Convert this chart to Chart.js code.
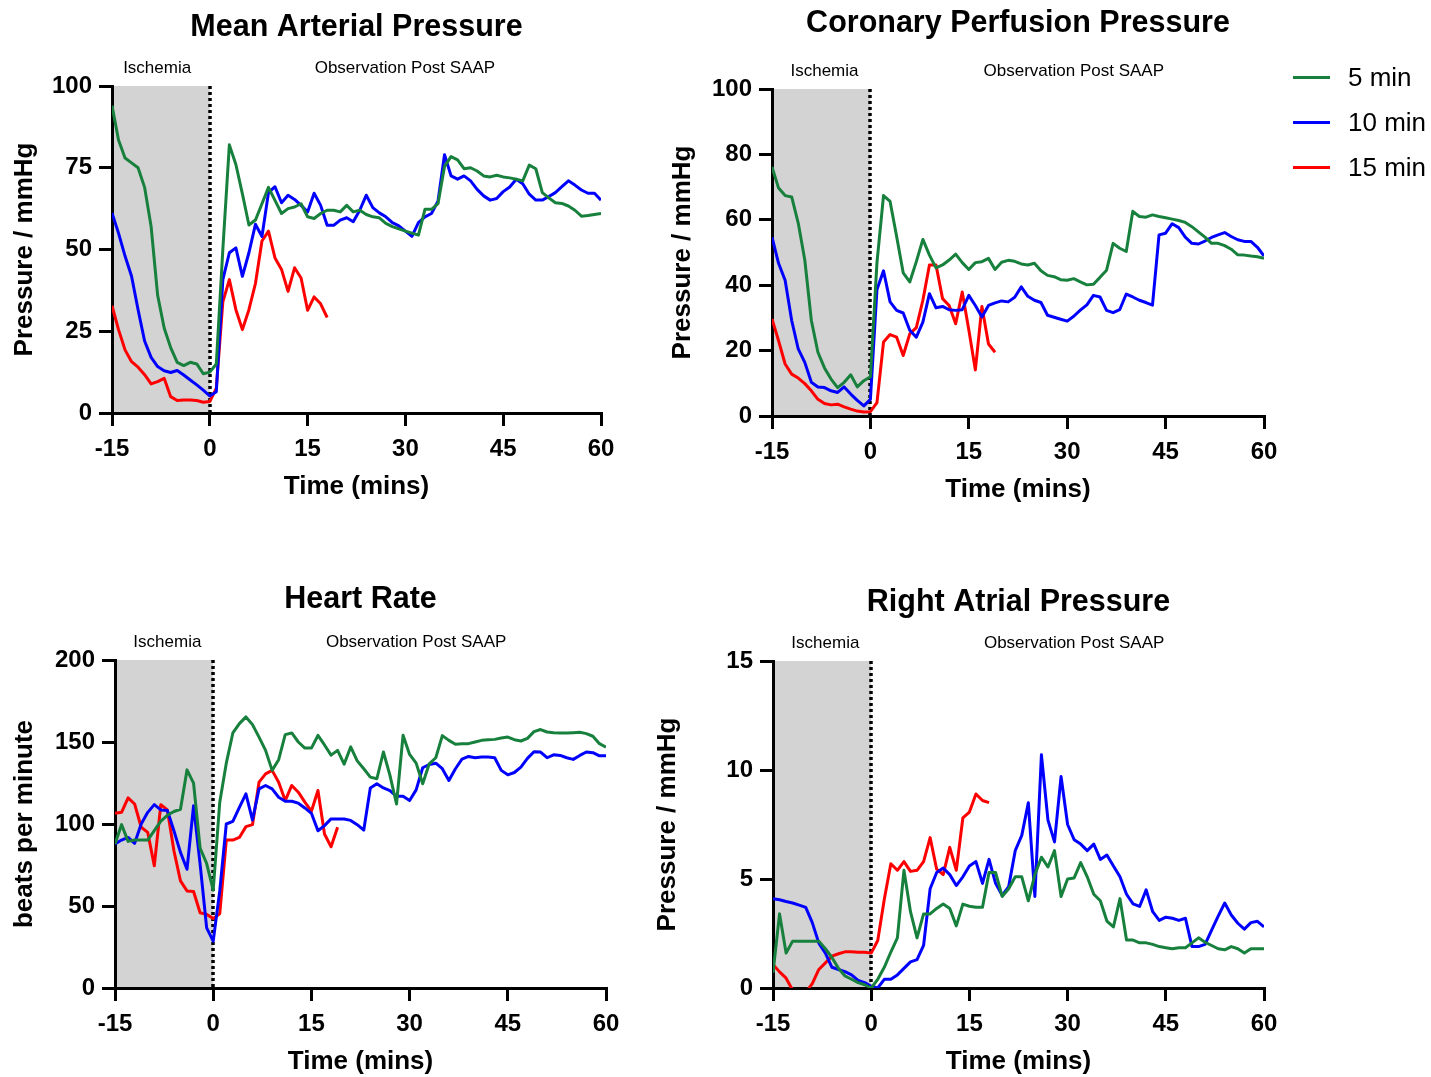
<!DOCTYPE html>
<html>
<head>
<meta charset="utf-8">
<title>Haemodynamics during ischemia and after SAAP</title>
<script src="https://cdn.jsdelivr.net/npm/chart.js@4.4.1/dist/chart.umd.min.js"></script>
<style>
  body { margin: 0; background: #fff; }
  #page { position: relative; width: 1431px; height: 1077px; overflow: hidden; }
  #page canvas { position: absolute; left: 0; top: 0; }
  #legend { position: absolute; left: 1293px; top: 55px; font: 26px 'Liberation Sans', Arial, sans-serif; color: #000; }
  #legend .row { display: flex; align-items: center; height: 45px; }
  #legend .swatch { width: 37px; height: 3px; margin-right: 18px; }
</style>
</head>
<body>
<div id="page">
  <canvas id="mapChart" width="1431" height="1077"></canvas>
  <canvas id="cppChart" width="1431" height="1077"></canvas>
  <canvas id="hrChart" width="1431" height="1077"></canvas>
  <canvas id="rapChart" width="1431" height="1077"></canvas>
  <div id="legend"></div>
</div>
<script>
const minutes = [-15, -14, -13, -12, -11, -10, -9, -8, -7, -6, -5, -4, -3, -2, -1, 0,
  1, 2, 3, 4, 5, 6, 7, 8, 9, 10, 11, 12, 13, 14, 15, 16, 17, 18, 19, 20,
  21, 22, 23, 24, 25, 26, 27, 28, 29, 30, 31, 32, 33, 34, 35, 36, 37, 38, 39, 40,
  41, 42, 43, 44, 45, 46, 47, 48, 49, 50, 51, 52, 53, 54, 55, 56, 57, 58, 59, 60];

const seriesNames = ['5 min', '10 min', '15 min'];
const seriesColors = ['#17803d', '#0000ff', '#ff0000'];

const timeTicks = [-15, 0, 15, 30, 45, 60];
const mapTicks = [0, 25, 50, 75, 100];
const cppTicks = [0, 20, 40, 60, 80, 100];
const hrTicks = [0, 50, 100, 150, 200];
const rapTicks = [0, 5, 10, 15];

// mean arterial pressure (mmHg), one value per minute from -15
const map5 = [94, 83.5, 78, 76.5, 75, 69, 57, 36, 26, 20, 15.5, 14.5, 15.5, 15, 12, 12.5,
  15, 50, 82, 76, 67, 57.5, 59, 64, 69, 65, 61, 62.5, 63, 64, 60, 59.5, 61, 62, 62, 61.5,
  63.5, 61.5, 62, 60.7, 60, 59.7, 58, 57, 56.3, 55.6, 55, 54.4, 62.3, 62.3, 64, 75.4, 78.4, 77.4, 74.7, 75,
  74, 72.5, 72.2, 72.7, 72.2, 71.9, 71.5, 71, 75.8, 74.7, 67.4, 65.8, 64.3, 64.1, 63.3, 62, 60.2, 60.4, 60.7, 61];
const map10 = [61.2, 55, 48, 41.8, 31.6, 22, 17, 14.2, 12.9, 12.4, 13, 11.6, 10.1, 8.6, 7, 5.2,
  6.5, 40.8, 49, 50.5, 41.8, 49, 57.7, 54, 67.4, 69.2, 64.3, 66.6, 65.3, 63.5, 61.5, 67.2, 63.5, 57.4, 57.4, 59,
  59.7, 58.5, 62, 66.6, 62.8, 61.2, 60, 58.2, 57.2, 55.6, 54, 58.2, 60, 61, 64.8, 79, 72.5, 71.5, 72.5, 71,
  68.4, 66.4, 65.1, 65.6, 67.7, 69.1, 71.5, 70.1, 66.9, 65.1, 65.1, 66.2, 67.4, 69.2, 71, 69.7, 68.2, 67.2, 67.2, 65.1];
const map15 = [32.8, 25.5, 19.3, 15.7, 14, 11.7, 8.9, 9.6, 10.6, 5, 3.8, 4, 4, 3.8, 3.3, 3.5,
  7.6, 34, 40.8, 31.6, 25.5, 31.6, 39.6, 52.6, 55.6, 47.4, 43.9, 37.2, 44.4, 41.3, 31.4, 35.5, 33.4, 29.2];

// coronary perfusion pressure (mmHg)
const cpp5 = [76.2, 69.7, 67.4, 67, 59, 47.7, 29.2, 19.5, 14.7, 11.3, 8.7, 10.3, 12.6, 8.9, 10.8, 12,
  46.9, 67.4, 65.6, 54.9, 43.8, 41, 47.2, 54, 49.2, 45.3, 46.2, 47.7, 49.5, 46.9, 44.8, 46.9, 47.2, 48.2, 44.8, 47,
  47.6, 47.3, 46.5, 46.2, 46.7, 44.4, 43, 42.6, 41.7, 41.5, 42, 41, 40.1, 40.3, 42.4, 44.6, 52.8, 51.3, 50.3, 62.6,
  61, 60.8, 61.5, 61, 60.6, 60.2, 59.8, 59.2, 57.9, 56.3, 54.7, 52.8, 52.8, 52.1, 51, 49.3, 49.2, 48.9, 48.7, 48.2];
const cpp10 = [54.7, 46.7, 41.5, 29.2, 20.5, 16.4, 10.3, 8.9, 8.7, 7.7, 7.2, 8.9, 6.7, 4.8, 3.1, 5.1,
  38.7, 44.4, 34.9, 32.3, 31.5, 26.2, 24.1, 28.7, 37.4, 33.1, 33.5, 32.5, 32.3, 32.5, 36.9, 33.8, 30.3, 33.8, 34.6, 35.2,
  34.9, 36.3, 39.5, 36.6, 35.4, 34.7, 30.8, 30.2, 29.6, 29, 30.5, 32.4, 34, 36.9, 36.4, 32.3, 31.6, 32.5, 37.3, 36.4,
  35.4, 34.7, 33.9, 55.4, 55.9, 58.8, 57.6, 54.7, 52.8, 52.6, 53.5, 54.6, 55.4, 56.1, 54.9, 53.9, 53.4, 53.4, 51.6, 48.9];
const cpp15 = [29.7, 23, 15.9, 12.8, 11.6, 9.9, 7.7, 5.1, 3.8, 3.4, 3.6, 2.8, 2.1, 1.5, 1.2, 1.3,
  4.1, 22.6, 24.9, 24.1, 18.5, 25.1, 27, 35.4, 46.2, 46.2, 35.9, 33.8, 28.2, 37.9, 26.4, 14.1, 33.5, 22, 19.5];

// heart rate (beats per minute)
const hr5 = [87.8, 99.6, 89.4, 90.2, 90.2, 90.2, 95.9, 101.8, 105.3, 107.6, 109, 133, 124.9, 85.3, 75.9, 59.6,
  113.3, 137.1, 155.5, 161.2, 165.3, 160.6, 153, 144.9, 132.7, 139.2, 154.5, 155.5, 150, 146.3, 146.3, 154, 148.2, 142, 144.9, 136.5,
  147, 138.5, 133.7, 128.6, 127.6, 143.9, 129.6, 112.2, 154.1, 142.4, 137.1, 124.5, 136.7, 140.4, 153.9, 151, 148.6, 149, 149, 150,
  151, 151.4, 151.6, 152.4, 153, 151.4, 150.6, 152.2, 156.3, 157.6, 156.1, 155.7, 155.5, 155.5, 155.7, 155.9, 155.1, 153.5, 149, 146.9];
const hr10 = [87.8, 90.2, 91.8, 88.2, 100, 107.1, 111.8, 108.6, 108.2, 95.9, 82.7, 72.4, 111.2, 75.5, 36.7, 28.6,
  59.2, 100, 101.6, 110.2, 118.4, 102.4, 121.4, 123.5, 121.4, 116.3, 113.9, 113.9, 112.7, 109.8, 106.5, 95.9, 99, 103.1, 103.1, 103.1,
  102.2, 99.6, 96.3, 122, 124.5, 122, 120.4, 116.9, 116.9, 114.3, 120.8, 134.3, 136.3, 137.1, 133.7, 126.5, 133.7, 139.6, 141.2, 140.4,
  140.8, 140.8, 140.4, 132.7, 130, 131.4, 134.7, 140, 144.1, 143.9, 140.4, 142.2, 141.8, 140.4, 139.4, 141.8, 143.9, 143.5, 141.6, 141.6];
const hr15 = [106.5, 107.1, 115.9, 112.2, 98, 94.9, 74.5, 111.8, 108.6, 83.7, 65.3, 59.2, 58.8, 45.9, 44.9, 42.4,
  45.3, 90.2, 90.2, 91.8, 98.4, 99.6, 125.5, 130.6, 132.7, 125.5, 114.3, 123.5, 119.4, 113.3, 107.8, 120.4, 93.9, 86.1, 98];

// right atrial pressure (mmHg)
const rap5 = [0.7, 3.4, 1.6, 2.15, 2.15, 2.15, 2.15, 2.15, 1.8, 1.4, 0.9, 0.55, 0.4, 0.25, 0.15, 0,
  0.4, 0.95, 1.65, 2.3, 5.4, 3.5, 2.3, 3.4, 3.4, 3.65, 3.85, 3.65, 2.85, 3.85, 3.75, 3.7, 3.7, 5.3, 5.3, 4.2,
  4.55, 5.1, 5.1, 4, 5.2, 6, 5.55, 6.3, 4.2, 5, 5.05, 5.75, 5.1, 4.3, 4, 3.07, 2.8, 4.1, 2.2, 2.2,
  2.07, 2.07, 2, 1.9, 1.85, 1.8, 1.85, 1.85, 2.07, 2.3, 2.1, 1.95, 1.8, 1.75, 1.9, 1.8, 1.6, 1.8, 1.8, 1.8];
const rap10 = [4.1, 4.05, 3.97, 3.9, 3.8, 3.7, 3, 2.06, 1.6, 0.95, 0.85, 0.75, 0.6, 0.35, 0.25, 0.08,
  0, 0.4, 0.4, 0.6, 0.9, 1.2, 1.3, 1.95, 4.55, 5.3, 5.5, 5.2, 4.7, 5.1, 5.6, 5.8, 4.8, 5.9, 4.8, 4.25,
  4.65, 6.3, 7, 8.5, 4.2, 10.7, 7.7, 6.7, 9.7, 7.5, 6.8, 6.6, 6.3, 6.6, 5.9, 6.1, 5.6, 5.1, 4.3, 3.86,
  3.74, 4.5, 3.5, 3.1, 3.25, 3.2, 3.1, 3.2, 1.9, 1.9, 2, 2.66, 3.3, 3.9, 3.35, 2.97, 2.7, 3, 3.06, 2.8];
const rap15 = [1.08, 0.74, 0.45, -0.1, -0.5, -0.2, 0.2, 0.85, 1.15, 1.46, 1.57, 1.66, 1.66, 1.64, 1.64, 1.6,
  2.18, 4.07, 5.7, 5.4, 5.8, 5.35, 5.4, 5.8, 6.9, 5.45, 5.2, 6.45, 5.4, 7.8, 8.07, 8.9, 8.6, 8.5];

const fontFamily = "'Liberation Sans', Arial, Helvetica, sans-serif";
Chart.defaults.font.family = fontFamily;
Chart.defaults.color = '#000';

const pageWidth = 1431;
const pageHeight = 1077;
const xAxisHeight = 89;

// where each plot area sits on the page
const panels = [
  { id: 'mapChart', title: 'Mean Arterial Pressure', yLabel: 'Pressure / mmHg', yTicks: mapTicks,
    series: [map5, map10, map15], area: { left: 112, top: 86, right: 601, bottom: 413 },
    yTitleX: 25, titleGap: 58, captionShift: -7 },
  { id: 'cppChart', title: 'Coronary Perfusion Pressure', yLabel: 'Pressure / mmHg', yTicks: cppTicks,
    series: [cpp5, cpp10, cpp15], area: { left: 772, top: 89, right: 1264, bottom: 416 },
    yTitleX: 683, titleGap: 65, captionShift: 0 },
  { id: 'hrChart', title: 'Heart Rate', yLabel: 'beats per minute', yTicks: hrTicks,
    series: [hr5, hr10, hr15], area: { left: 115, top: 660, right: 606, bottom: 988 },
    yTitleX: 25, titleGap: 60, captionShift: 0 },
  { id: 'rapChart', title: 'Right Atrial Pressure', yLabel: 'Pressure / mmHg', yTicks: rapTicks,
    series: [rap5, rap10, rap15], area: { left: 773, top: 661, right: 1264, bottom: 988 },
    yTitleX: 668, titleGap: 58, captionShift: 0 }
];

function timePoints(values) {
  return values.map((v, i) => ({ x: minutes[i], y: v }));
}

// grey ischemia block, dotted line at reperfusion, panel title and phase captions
const phasePlugin = {
  id: 'phases',
  beforeDraw(chart) {
    const { ctx, chartArea } = chart;
    const x = chart.scales.x;
    const x0 = x.getPixelForValue(-15);
    const x1 = x.getPixelForValue(0);
    ctx.save();
    ctx.fillStyle = '#d3d3d3';
    ctx.fillRect(x0, chartArea.top, x1 - x0, chartArea.bottom - chartArea.top);
    ctx.strokeStyle = '#000';
    ctx.lineWidth = 3.5;
    ctx.setLineDash([3, 3]);
    ctx.beginPath();
    ctx.moveTo(Math.round(x1), chartArea.top);
    ctx.lineTo(Math.round(x1), chartArea.bottom);
    ctx.stroke();
    ctx.restore();
  },
  afterDraw(chart, args, opts) {
    const { ctx, chartArea } = chart;
    const x = chart.scales.x;
    ctx.save();
    ctx.fillStyle = '#000';
    ctx.textAlign = 'center';
    ctx.textBaseline = 'middle';
    ctx.font = 'bold 30.5px ' + fontFamily;
    ctx.fillText(opts.title, (chartArea.left + chartArea.right) / 2, chartArea.top - opts.titleGap);
    ctx.font = '17px ' + fontFamily;
    ctx.fillText('Ischemia', x.getPixelForValue(-7) + opts.captionShift, chartArea.top - 18);
    ctx.fillText('Observation Post SAAP', x.getPixelForValue(31) + opts.captionShift, chartArea.top - 18);
    ctx.restore();
  }
};

const tickFont = { size: 24, weight: 'bold' };
const axisFont = { size: 26, weight: 'bold' };

panels.forEach(p => {
  const padLeft = p.yTitleX - 15.6;
  new Chart(document.getElementById(p.id), {
    type: 'line',
    data: {
      datasets: p.series.map((values, i) => ({
        label: seriesNames[i],
        data: timePoints(values),
        borderColor: seriesColors[i],
        borderWidth: 3,
        pointRadius: 0,
        tension: 0,
        fill: false,
        borderJoinStyle: 'round'
      }))
    },
    options: {
      responsive: false,
      animation: false,
      devicePixelRatio: 1,
      layout: {
        padding: {
          left: padLeft,
          top: p.area.top,
          right: pageWidth - p.area.right,
          bottom: pageHeight - p.area.bottom - xAxisHeight
        }
      },
      plugins: {
        legend: { display: false },
        tooltip: { enabled: false },
        phases: { title: p.title, titleGap: p.titleGap, captionShift: p.captionShift }
      },
      scales: {
        x: {
          type: 'linear',
          min: timeTicks[0],
          max: timeTicks[timeTicks.length - 1],
          afterBuildTicks: s => { s.ticks = timeTicks.map(value => ({ value })); },
          afterFit: s => { s.height = xAxisHeight; },
          grid: { drawOnChartArea: false, drawTicks: true, tickLength: 13, color: '#000', lineWidth: 3 },
          border: { color: '#000', width: 3 },
          ticks: { color: '#000', font: tickFont, padding: 9, maxRotation: 0, autoSkip: false },
          title: { display: true, text: 'Time (mins)', color: '#000', font: axisFont, padding: 0 }
        },
        y: {
          min: p.yTicks[0],
          max: p.yTicks[p.yTicks.length - 1],
          afterBuildTicks: s => { s.ticks = p.yTicks.map(value => ({ value })); },
          afterFit: s => { s.width = p.area.left - padLeft; },
          grid: { drawOnChartArea: false, drawTicks: true, tickLength: 13, color: '#000', lineWidth: 3 },
          border: { color: '#000', width: 3 },
          ticks: { color: '#000', font: tickFont, padding: 7, autoSkip: false },
          title: { display: true, text: p.yLabel, color: '#000', font: axisFont, padding: 0 }
        }
      }
    },
    plugins: [phasePlugin]
  });
});

// shared legend for the three ischemia durations
const legend = document.getElementById('legend');
seriesNames.forEach((name, i) => {
  const row = document.createElement('div');
  row.className = 'row';
  const swatch = document.createElement('span');
  swatch.className = 'swatch';
  swatch.style.backgroundColor = seriesColors[i];
  const label = document.createElement('span');
  label.textContent = name;
  row.appendChild(swatch);
  row.appendChild(label);
  legend.appendChild(row);
});
</script>
</body>
</html>
